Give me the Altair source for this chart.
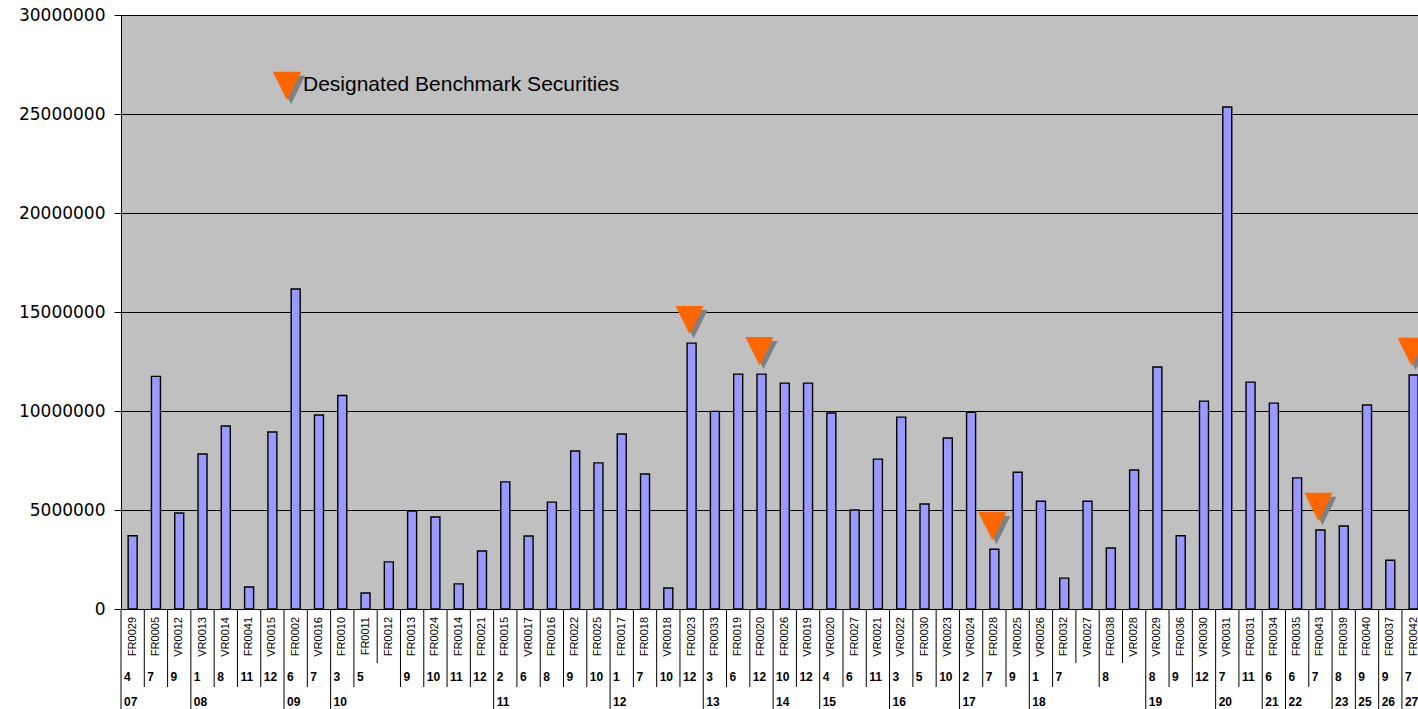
import altair as alt
import pandas as pd

# Government securities: series code, maturity month, maturity year, outstanding amount
names = [
    "FR0029", "FR0005", "VR0012", "VR0013", "VR0014", "FR0041", "VR0015", "FR0002",
    "VR0016", "FR0010", "FR0011", "FR0012", "FR0013", "FR0024", "FR0014", "FR0021",
    "FR0015", "VR0017", "FR0016", "FR0022", "FR0025", "FR0017", "FR0018", "VR0018",
    "FR0023", "FR0033", "FR0019", "FR0020", "FR0026", "VR0019", "VR0020", "FR0027",
    "VR0021", "VR0022", "FR0030", "VR0023", "VR0024", "FR0028", "VR0025", "VR0026",
    "FR0032", "VR0027", "FR0038", "VR0028", "VR0029", "FR0036", "VR0030", "VR0031",
    "FR0031", "FR0034", "FR0035", "FR0043", "FR0039", "FR0040", "FR0037", "FR0042",
]
months = [
    4, 7, 9, 1, 8, 11, 12, 6,
    7, 3, 5, 5, 9, 10, 11, 12,
    2, 6, 8, 9, 10, 1, 7, 10,
    12, 3, 6, 12, 10, 12, 4, 6,
    11, 3, 5, 10, 2, 7, 9, 1,
    7, 7, 8, 8, 8, 9, 12, 7,
    11, 6, 6, 7, 8, 9, 9, 7,
]
years = [
    "07", "07", "07", "08", "08", "08", "08", "09",
    "09", "10", "10", "10", "10", "10", "10", "10",
    "11", "11", "11", "11", "11", "12", "12", "12",
    "12", "13", "13", "13", "14", "14", "15", "15",
    "15", "16", "16", "16", "17", "17", "17", "18",
    "18", "18", "18", "18", "19", "19", "19", "20",
    "20", "21", "22", "22", "23", "25", "26", "27",
]
volumes = [
    3700000, 11750000, 4850000, 7830000, 9240000, 1110000, 8940000, 16160000,
    9800000, 10780000, 810000, 2380000, 4950000, 4650000, 1270000, 2930000,
    6420000, 3690000, 5400000, 7980000, 7380000, 8840000, 6820000, 1060000,
    13430000, 9980000, 11860000, 11860000, 11410000, 11410000, 9900000, 5000000,
    7570000, 9690000, 5300000, 8640000, 9930000, 3020000, 6910000, 5440000,
    1560000, 5440000, 3080000, 7020000, 12220000, 3700000, 10500000, 25350000,
    11460000, 10400000, 6620000, 3990000, 4190000, 10300000, 2460000, 11820000,
]
benchmarks = ["FR0023", "FR0020", "FR0028", "FR0043", "FR0042"]
y_ticks = [0, 5000000, 10000000, 15000000, 20000000, 25000000, 30000000]
legend_text = ["Designated Benchmark Securities"]

N = len(names)
STEP = 23.29          # width of one category band
PLOT_W = 1297         # visible plot width; the last band runs past the edge
PLOT_H = 594

df = pd.DataFrame({"series": names, "month": months, "year": years, "volume": volumes})
df["benchmark"] = df["series"].isin(benchmarks)
df["year_start"] = df["year"] != df["year"].shift()
df["month_start"] = df["year_start"] | (df["month"] != df["month"].shift())

x_scale = alt.Scale(domain=names, range=[0, N * STEP], paddingInner=0, paddingOuter=0)
x_center = alt.X("series:N", sort=names, scale=x_scale, axis=None)
x_edge = alt.X("series:N", sort=names, scale=x_scale, axis=None, bandPosition=0)
y_enc = alt.Y(
    "volume:Q",
    scale=alt.Scale(domain=[0, 30000000], nice=False),
    title=None,
    axis=alt.Axis(
        values=y_ticks, format="d", grid=True, gridColor="black", gridWidth=1,
        domainColor="black", tickColor="black", tickSize=7, labelPadding=9,
        labelFont="DejaVu Sans", labelFontSize=17, labelColor="black",
        labelFlush=False, labelOverlap=False,
    ),
)

base = alt.Chart(df)

bars = base.mark_bar(width=9, fill="#9999FF", stroke="black", strokeWidth=1.4).encode(
    x=x_center, y=y_enc
)

TRI = "M-1,-1L1,-1L0,1Z"
marker_shadow = base.transform_filter(alt.datum.benchmark).mark_point(
    shape=TRI, size=800, filled=True, color="#808080", opacity=1, strokeWidth=0,
    xOffset=2, yOffset=-19,
).encode(x=x_center, y="volume:Q")
marker = base.transform_filter(alt.datum.benchmark).mark_point(
    shape=TRI, size=800, filled=True, color="#FF6600", opacity=1, strokeWidth=0,
    xOffset=-2, yOffset=-23,
).encode(x=x_center, y="volume:Q")

# Multi-level category axis: series code, month, year
name_labels = base.mark_text(
    angle=270, align="right", baseline="middle",
    font="Liberation Sans", fontSize=11, color="black",
).encode(x=x_center, y=alt.value(PLOT_H + 8), text="series:N")

month_labels = base.transform_filter(alt.datum.month_start).mark_text(
    align="left", baseline="middle", dx=3, font="Liberation Sans",
    fontSize=12, fontWeight="bold", color="black",
).encode(x=x_edge, y=alt.value(PLOT_H + 68), text="month:N")

year_labels = base.transform_filter(alt.datum.year_start).mark_text(
    align="left", baseline="middle", dx=3, font="Liberation Sans",
    fontSize=12, fontWeight="bold", color="black",
).encode(x=x_edge, y=alt.value(PLOT_H + 93), text="year:N")

sep_series = base.transform_filter("!datum.month_start").mark_rule(
    color="black", strokeWidth=1
).encode(x=x_edge, y=alt.value(PLOT_H), y2=alt.value(PLOT_H + 54))
sep_month = base.transform_filter("datum.month_start && !datum.year_start").mark_rule(
    color="black", strokeWidth=1
).encode(x=x_edge, y=alt.value(PLOT_H), y2=alt.value(PLOT_H + 78))
sep_year = base.transform_filter(alt.datum.year_start).mark_rule(
    color="black", strokeWidth=1
).encode(x=x_edge, y=alt.value(PLOT_H), y2=alt.value(PLOT_H + 100))

# In-plot legend for the benchmark marker
leg = alt.Chart(pd.DataFrame({"label": legend_text}))
leg_shadow = leg.mark_point(
    shape=TRI, size=800, filled=True, color="#808080", opacity=1, strokeWidth=0
).encode(x=alt.value(170), y=alt.value(75))
leg_marker = leg.mark_point(
    shape=TRI, size=800, filled=True, color="#FF6600", opacity=1, strokeWidth=0
).encode(x=alt.value(166), y=alt.value(71))
leg_text = leg.mark_text(
    align="left", baseline="alphabetic", font="Liberation Sans", fontSize=21,
    color="black",
).encode(x=alt.value(182), y=alt.value(76), text="label:N")

chart = (
    alt.layer(
        bars, marker_shadow, marker,
        sep_series, sep_month, sep_year,
        name_labels, month_labels, year_labels,
        leg_shadow, leg_marker, leg_text,
    )
    .properties(
        width=PLOT_W,
        height=PLOT_H,
        autosize=alt.AutoSizeParams(type="none"),
        padding={"left": 121, "top": 15, "right": 0, "bottom": 100},
        background="white",
    )
    .configure_view(fill="#C0C0C0", strokeWidth=0)
)

chart.save("out.html", embed_options={"renderer": "svg", "actions": False})
